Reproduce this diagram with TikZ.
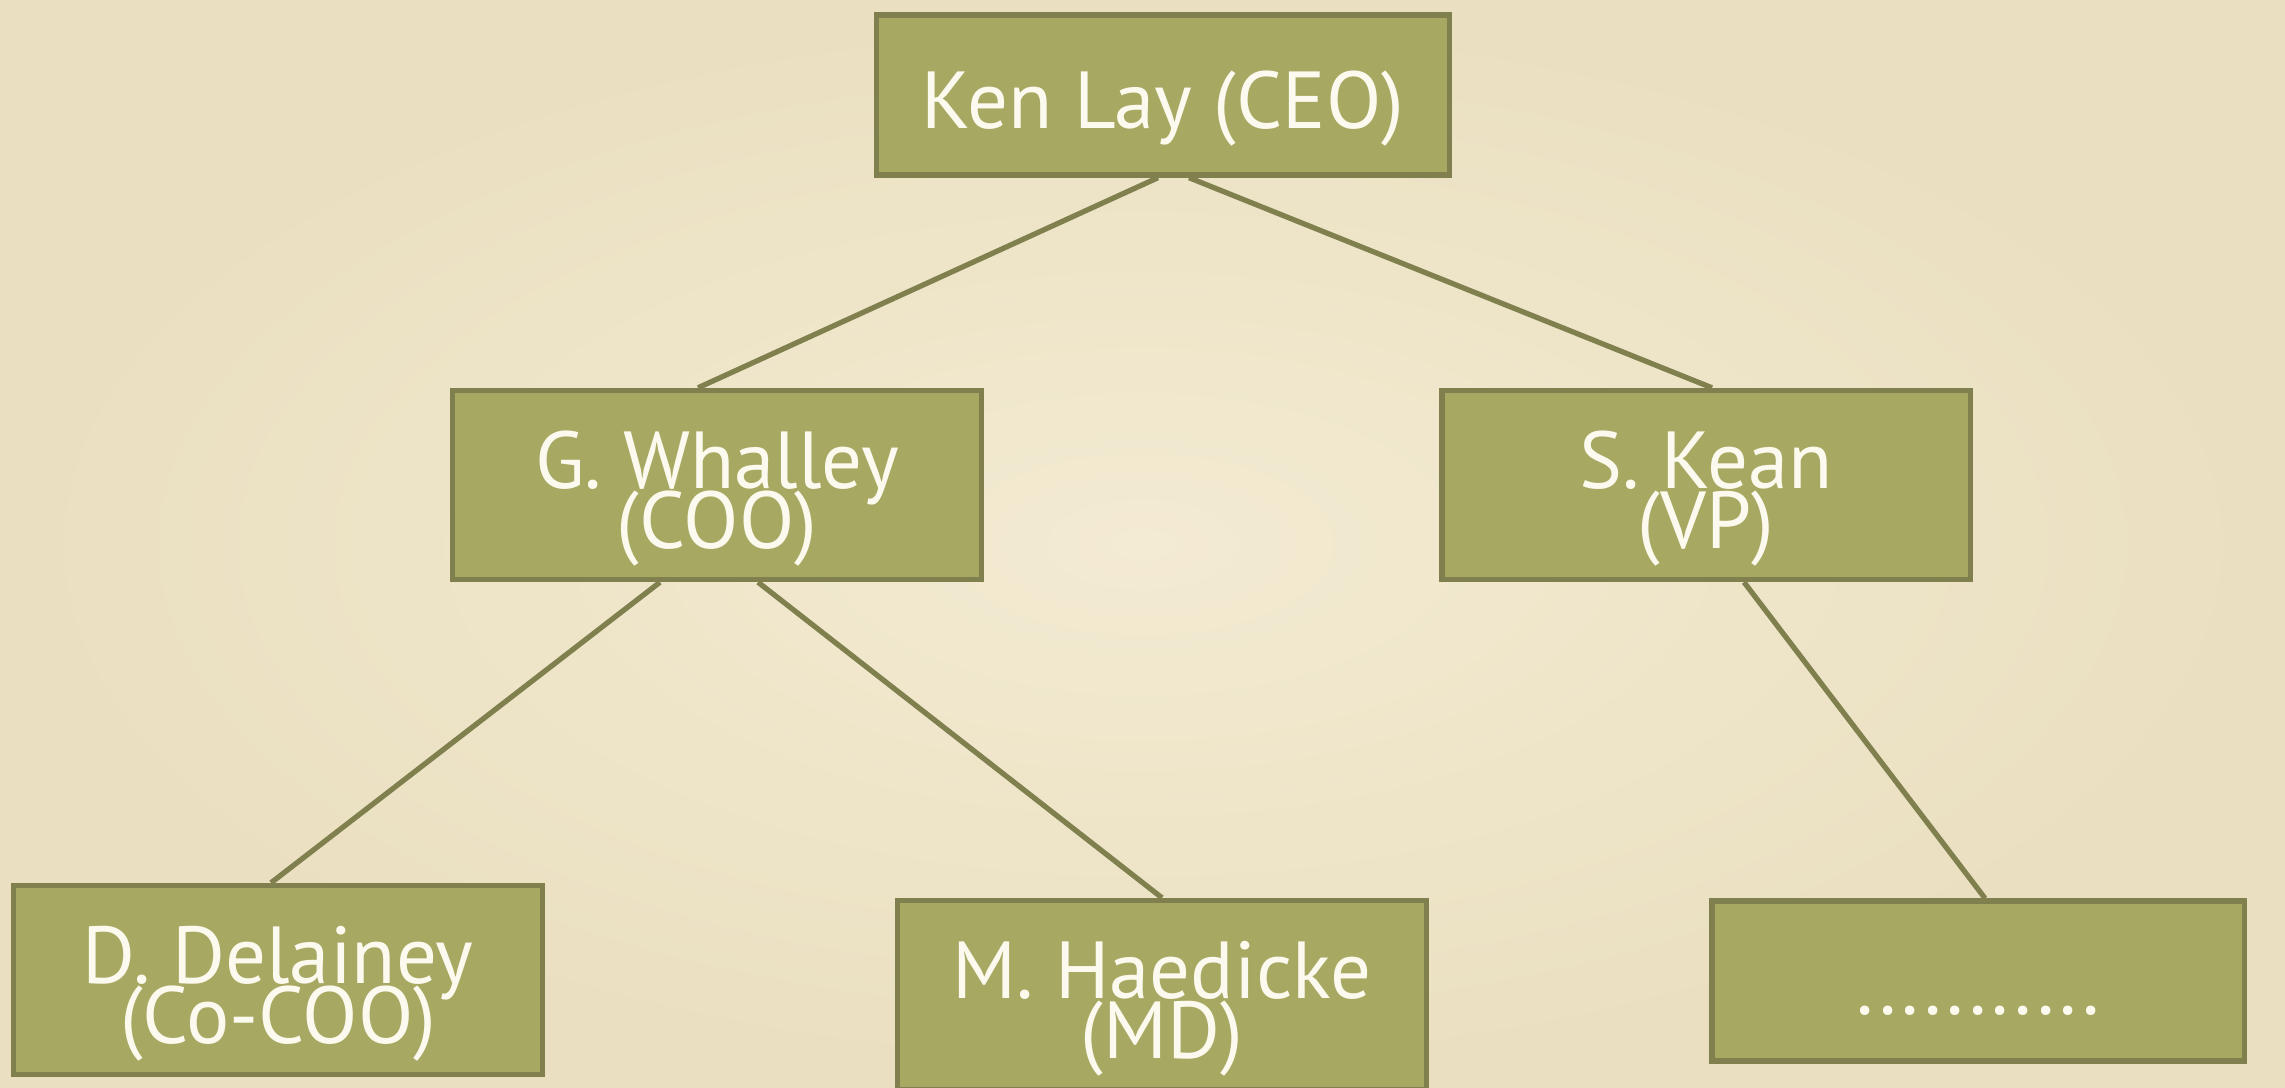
\documentclass[tikz,border=0pt]{standalone}
\usepackage{fontspec}
\newfontfamily\chalk{PT Sans}
\usetikzlibrary{positioning}
\definecolor{paper}{HTML}{F3EBD2}
\definecolor{paperedge}{HTML}{EADFC0}
\definecolor{boxfill}{HTML}{A7A862}
\definecolor{boxline}{HTML}{80804F}
\definecolor{chalkwhite}{HTML}{FCF9EE}
\newcommand\tall{\rule{0pt}{24pt}}

\begin{document}
\begin{tikzpicture}[x=0.01cm, y=-0.01cm,
  every node/.style={rectangle,draw=boxline,fill=boxfill,line width=1.5pt,
    text=chalkwhite,align=center,inner ysep=2pt,
    font={\chalk\fontsize{23}{17}\selectfont\lineskiplimit=-1000pt},
    minimum width=5.28cm,minimum height=1.89cm}]
% paper background
\shade[inner color=paper,outer color=paperedge] (0,0) rectangle (2285,1088);
\useasboundingbox (0,0) rectangle (2285,1088);

% boxes of the chart
\node[minimum width=5.73cm,minimum height=1.60cm] (lay) at (1163,95) {\tall Ken Lay (CEO)};
\node (whalley) at (717,485) {\tall G. Whalley\\(COO)};
\node (kean) at (1706,485) {\tall S. Kean\\(VP)};
\node (delainey) at (278,980) {\tall D. Delainey\\(Co-COO)};
\node (haedicke) at (1162,995) {\tall M. Haedicke\\(MD)};
\node[minimum width=5.32cm,minimum height=1.60cm] (more) at (1978,981) {\tall\vphantom{g}...........};

% reporting lines
\draw[boxline,line width=1.5pt] ([xshift=-0.05cm]lay.south) -- ([xshift=-0.19cm]whalley.north);
\draw[boxline,line width=1.5pt] ([xshift=0.26cm]lay.south) -- ([xshift=0.06cm]kean.north);
\draw[boxline,line width=1.5pt] ([xshift=-0.57cm]whalley.south) -- ([xshift=-0.07cm]delainey.north);
\draw[boxline,line width=1.5pt] ([xshift=0.41cm]whalley.south) -- (haedicke.north);
\draw[boxline,line width=1.5pt] ([xshift=0.38cm]kean.south) -- ([xshift=0.07cm]more.north);
\end{tikzpicture}
\end{document}
